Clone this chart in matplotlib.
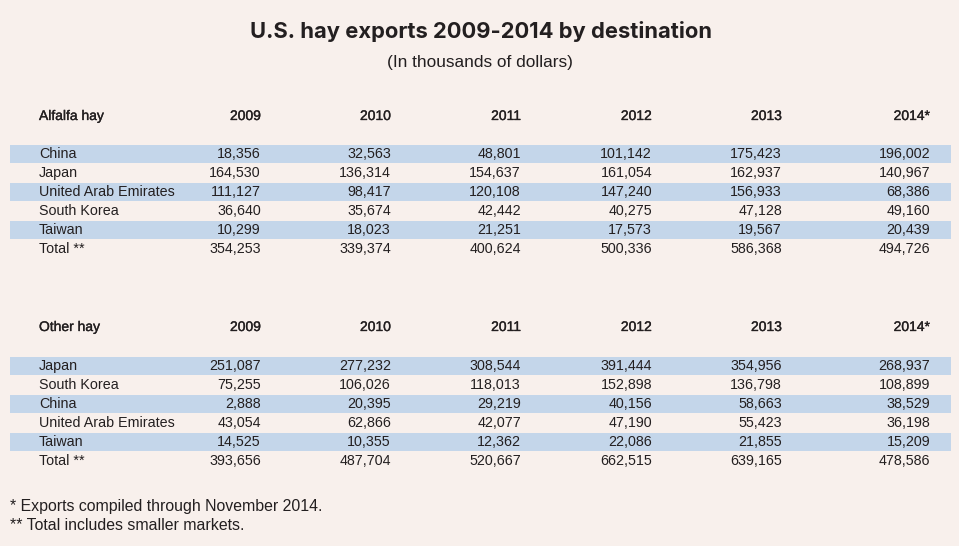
import matplotlib
matplotlib.use("Agg")
import matplotlib.pyplot as plt
import matplotlib.patheffects as pe

years = ["2009", "2010", "2011", "2012", "2013", "2014*"]

alfalfa_countries = ["China", "Japan", "United Arab Emirates", "South Korea", "Taiwan", "Total **"]
alfalfa_china = [18356, 32563, 48801, 101142, 175423, 196002]
alfalfa_japan = [164530, 136314, 154637, 161054, 162937, 140967]
alfalfa_uae = [111127, 98417, 120108, 147240, 156933, 68386]
alfalfa_korea = [36640, 35674, 42442, 40275, 47128, 49160]
alfalfa_taiwan = [10299, 18023, 21251, 17573, 19567, 20439]
alfalfa_total = [354253, 339374, 400624, 500336, 586368, 494726]

other_countries = ["Japan", "South Korea", "China", "United Arab Emirates", "Taiwan", "Total **"]
other_japan = [251087, 277232, 308544, 391444, 354956, 268937]
other_korea = [75255, 106026, 118013, 152898, 136798, 108899]
other_china = [2888, 20395, 29219, 40156, 58663, 38529]
other_uae = [43054, 62866, 42077, 47190, 55423, 36198]
other_taiwan = [14525, 10355, 12362, 22086, 21855, 15209]
other_total = [393656, 487704, 520667, 662515, 639165, 478586]

title = "U.S. hay exports 2009-2014 by destination"
subtitle = "(In thousands of dollars)"
footnotes = ["* Exports compiled through November 2014.", "** Total includes smaller markets."]

BG = "#f8f0ec"
STRIPE = "#c4d6ea"
TXT = "#231f20"
FONT = "Liberation Sans"
MEDIUM = [pe.withStroke(linewidth=0.25, foreground=TXT)]

fig = plt.figure(figsize=(9.59, 5.46), dpi=100)
fig.patch.set_facecolor(BG)
ax = fig.add_axes([0, 0, 1, 1])
ax.set_xlim(0, 959)
ax.set_ylim(546, 0)
ax.axis("off")
ax.set_facecolor(BG)

col_x = [261, 391, 521, 652, 782, 930]
label_x = 39
row_h = 19


def draw_table(name, countries, rows, header_y, first_y):
    ax.text(label_x, header_y, name, ha="left", va="center", fontsize=10,
            family=FONT, color=TXT, path_effects=MEDIUM)
    for x, y in zip(col_x, years):
        ax.text(x, header_y, y, ha="right", va="center", fontsize=10,
                family=FONT, color=TXT, path_effects=MEDIUM)
    for i, (c, vals) in enumerate(zip(countries, rows)):
        y = first_y + i * row_h
        if i % 2 == 0 and i < 5:
            ax.axhspan(y - 9, y + 9, xmin=10 / 959, xmax=951 / 959,
                       color=STRIPE, lw=0, zorder=0)
        ax.text(label_x, y, c, ha="left", va="center", fontsize=10.3,
                family=FONT, color=TXT)
        for x, v in zip(col_x, vals):
            ax.text(x, y, f"{v:,}", ha="right", va="center", fontsize=10.3,
                    family=FONT, color=TXT)


draw_table("Alfalfa hay", alfalfa_countries,
           [alfalfa_china, alfalfa_japan, alfalfa_uae, alfalfa_korea, alfalfa_taiwan, alfalfa_total],
           116, 154)
draw_table("Other hay", other_countries,
           [other_japan, other_korea, other_china, other_uae, other_taiwan, other_total],
           327, 366)

ax.text(481, 32, title, ha="center", va="center", fontsize=15.8,
        fontweight="bold", family="Inter", color=TXT)
ax.text(480, 62, subtitle, ha="center", va="center", fontsize=12.4,
        family=FONT, color=TXT)
for i, f in enumerate(footnotes):
    ax.text(10, 507 + i * 18.5, f, ha="left", va="center", fontsize=11.4,
            family=FONT, color=TXT)

fig.savefig("out.png", dpi=100, facecolor=BG)
